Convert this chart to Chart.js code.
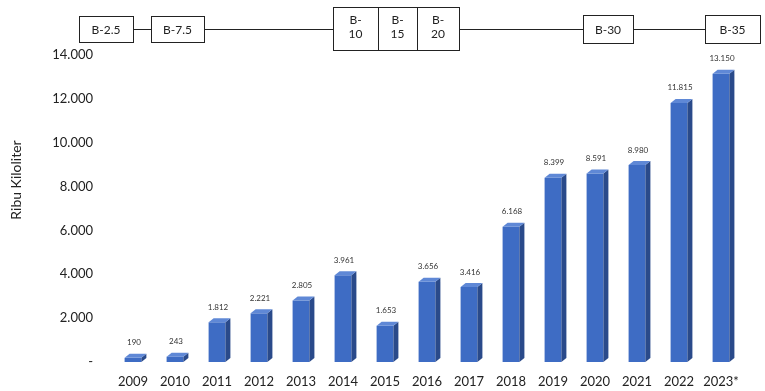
<!DOCTYPE html>
<html>
<head>
<meta charset="utf-8">
<script src="https://cdn.jsdelivr.net/npm/chart.js@4.4.0/dist/chart.umd.min.js"></script>
<style>
  body { margin: 0; background: #fff; }
  #wrap { width: 765px; height: 391px; }
</style>
</head>
<body>
<div id="wrap"><canvas id="myChart" width="765" height="391"></canvas></div>
<script>
const years = ['2009', '2010', '2011', '2012', '2013', '2014', '2015', '2016', '2017', '2018', '2019', '2020', '2021', '2022', '2023*'];
const volumes = [190, 243, 1812, 2221, 2805, 3961, 1653, 3656, 3416, 6168, 8399, 8591, 8980, 11815, 13150];
const yTicks = [0, 2000, 4000, 6000, 8000, 10000, 12000, 14000];
const mandates = ['B-2.5', 'B-7.5', 'B-10', 'B-15', 'B-20', 'B-30', 'B-35'];

const fontFam = 'Lato, "Open Sans", sans-serif';

function fmt(v) {
  if (v === 0) return '-';
  return String(v).replace(/\B(?=(\d{3})+(?!\d))/g, '.');
}

// boxes above the chart (layout only)
const boxLayout = [
  { x0: 79, x1: 133, y0: 16, y1: 42 },
  { x0: 151, x1: 204, y0: 16, y1: 42 },
  { x0: 333, x1: 378, y0: 7, y1: 50 },
  { x0: 378, x1: 417, y0: 7, y1: 50 },
  { x0: 417, x1: 459, y0: 7, y1: 50 },
  { x0: 583, x1: 633, y0: 15, y1: 43 },
  { x0: 705, x1: 760, y0: 15, y1: 43 }
];

const mandatePlugin = {
  id: 'mandates',
  afterDraw(chart) {
    const ctx = chart.ctx;
    ctx.save();
    ctx.strokeStyle = '#222';
    ctx.lineWidth = 1;
    ctx.beginPath();
    ctx.moveTo(106, 29.5);
    ctx.lineTo(733, 29.5);
    ctx.stroke();
    ctx.font = '12px ' + fontFam;
    ctx.fillStyle = '#222';
    ctx.textAlign = 'center';
    ctx.textBaseline = 'middle';
    mandates.forEach((m, i) => {
      const b = boxLayout[i];
      ctx.fillStyle = '#fff';
      ctx.fillRect(b.x0, b.y0, b.x1 - b.x0, b.y1 - b.y0);
      ctx.strokeRect(b.x0 + 0.5, b.y0 + 0.5, b.x1 - b.x0, b.y1 - b.y0);
      ctx.fillStyle = '#222';
      const cx = (b.x0 + b.x1) / 2;
      if (b.y1 - b.y0 > 35) {
        const parts = m.split('-');
        ctx.fillText(parts[0] + '-', cx, b.y0 + 13);
        ctx.fillText(parts[1], cx, b.y0 + 27);
      } else {
        ctx.fillText(m, cx, (b.y0 + b.y1) / 2 + 1);
      }
    });
    // y axis title
    ctx.translate(16, 180);
    ctx.rotate(-Math.PI / 2);
    ctx.font = '14px ' + fontFam;
    ctx.fillStyle = '#222';
    ctx.fillText('Ribu Kiloliter', 0, 0);
    ctx.restore();
  }
};

const bar3d = {
  id: 'bar3d',
  afterDatasetsDraw(chart) {
    const ctx = chart.ctx;
    const meta = chart.getDatasetMeta(0);
    const dx = 5, dy = -4;
    ctx.save();
    meta.data.forEach((bar, i) => {
      const p = bar.getProps(['x', 'y', 'base', 'width'], true);
      const l = p.x - p.width / 2, r = p.x + p.width / 2;
      ctx.fillStyle = '#2A4A8A';
      ctx.beginPath();
      ctx.moveTo(r, p.y);
      ctx.lineTo(r + dx, p.y + dy);
      ctx.lineTo(r + dx, p.base + dy);
      ctx.lineTo(r, p.base);
      ctx.closePath();
      ctx.fill();
      ctx.fillStyle = '#5F88D6';
      ctx.beginPath();
      ctx.moveTo(l, p.y);
      ctx.lineTo(l + dx, p.y + dy);
      ctx.lineTo(r + dx, p.y + dy);
      ctx.lineTo(r, p.y);
      ctx.closePath();
      ctx.fill();
      ctx.fillStyle = '#333';
      ctx.font = '8px ' + fontFam;
      ctx.textAlign = 'center';
      ctx.textBaseline = 'middle';
      ctx.fillText(fmt(volumes[i]), p.x + 1, p.y - 15);
    });
    ctx.restore();
  }
};

new Chart(document.getElementById('myChart'), {
  type: 'bar',
  data: {
    labels: years,
    datasets: [{
      data: volumes,
      backgroundColor: '#3E6CC4',
      borderWidth: 0,
      barPercentage: 0.4,
      categoryPercentage: 1.0
    }]
  },
  options: {
    responsive: false,
    animation: false,
    layout: { padding: { top: 55, right: 23, left: 0, bottom: 0 } },
    plugins: { legend: { display: false }, tooltip: { enabled: false } },
    scales: {
      x: {
        grid: { display: false, drawTicks: false },
        border: { display: false },
        ticks: { color: '#222', font: { size: 13, family: fontFam }, padding: 12, maxRotation: 0 },
        afterFit(s) { s.height = 29; }
      },
      y: {
        min: 0,
        max: 14000,
        grid: { display: false, drawTicks: false },
        border: { display: false },
        afterBuildTicks(s) { s.ticks = yTicks.map(v => ({ value: v })); },
        ticks: {
          color: '#222',
          font: { size: 13, family: fontFam },
          padding: 19,
          callback: v => fmt(v)
        },
        afterFit(s) { s.width = 112; }
      }
    }
  },
  plugins: [bar3d, mandatePlugin]
});
</script>
</body>
</html>
